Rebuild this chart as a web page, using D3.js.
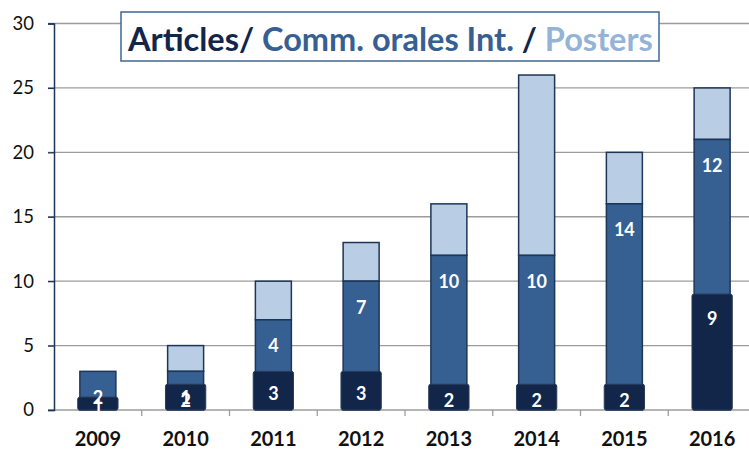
<!DOCTYPE html>
<html>
<head>
<meta charset="utf-8">
<script src="https://cdn.jsdelivr.net/npm/d3@7"></script>
<style>
  body { margin: 0; background: #fff; }
  svg { display: block; font-family: Lato, "Open Sans", sans-serif; }
</style>
</head>
<body>
<div class="chart"></div>
<script>
// data
var years = ["2009", "2010", "2011", "2012", "2013", "2014", "2015", "2016"];
var articles = [1, 2, 3, 3, 2, 2, 2, 9];
var comm_orales = [2, 1, 4, 7, 10, 10, 14, 12];
var posters = [0, 2, 3, 3, 4, 14, 4, 4];
var y_ticks = [0, 5, 10, 15, 20, 25, 30];

var width = 749, height = 450;
var margin_px = { top: 23.5, bottom: 40, left: 54, right: -7 };
var colors = { dark: "#12264a", mid: "#376092", light: "#b9cde5", edge: "#1d3557" };

var figure_data = years.map(function (y, i) {
  return { year: y, articles: articles[i], comm: comm_orales[i], posters: posters[i] };
});

var svg = d3.select(".chart").append("svg")
  .attr("width", width)
  .attr("height", height);

var x_scale = d3.scaleBand()
  .domain(years)
  .range([margin_px.left, width - margin_px.right])
  .paddingInner(0.59)
  .paddingOuter(0.295);

var y_scale = d3.scaleLinear()
  .domain([0, 30])
  .range([height - margin_px.bottom, margin_px.top]);

// grid lines
svg.append("g")
  .selectAll("line")
  .data(y_ticks)
  .enter()
  .append("line")
    .attr("x1", margin_px.left - 6)
    .attr("x2", width)
    .attr("y1", d => y_scale(d))
    .attr("y2", d => y_scale(d))
    .attr("stroke", "#9c9c9c")
    .attr("stroke-width", 1.3);

// y axis
var y_axis = svg.append("g")
  .attr("transform", "translate(" + margin_px.left + ",0)")
  .call(d3.axisLeft(y_scale).tickValues(y_ticks).tickSize(6).tickPadding(14));
y_axis.select(".domain").attr("stroke", colors.edge).attr("stroke-width", 1.5);
y_axis.selectAll(".tick line").attr("stroke", colors.edge).attr("stroke-width", 1.3);
y_axis.selectAll(".tick text")
  .attr("font-size", "18.5px")
  .attr("font-family", "Lato, sans-serif")
  .attr("fill", "#111");

// x axis ticks on the band edges
var step = x_scale.step();
var edges = years.map((d, i) => margin_px.left + i * step).concat([margin_px.left + years.length * step]);
svg.append("g")
  .selectAll("line")
  .data(edges.slice(1))
  .enter()
  .append("line")
    .attr("x1", d => d).attr("x2", d => d)
    .attr("y1", y_scale(0)).attr("y2", y_scale(0) + 6)
    .attr("stroke", "#9c9c9c")
    .attr("stroke-width", 1.3);

svg.append("g")
  .selectAll("text")
  .data(years)
  .enter()
  .append("text")
    .attr("x", d => x_scale(d) + x_scale.bandwidth() / 2)
    .attr("y", 446)
    .attr("text-anchor", "middle")
    .attr("font-size", "20px")
    .attr("font-weight", "bold")
    .attr("fill", "#111")
    .text(d => d);

var bw = x_scale.bandwidth();
var bars = svg.append("g");

// posters (top segment)
bars.selectAll(".posters")
  .data(figure_data.filter(d => d.posters > 0))
  .enter()
  .append("rect")
    .attr("class", "posters")
    .attr("x", d => x_scale(d.year))
    .attr("width", bw)
    .attr("y", d => y_scale(d.articles + d.comm + d.posters))
    .attr("height", d => y_scale(d.articles + d.comm) - y_scale(d.articles + d.comm + d.posters))
    .attr("fill", colors.light)
    .attr("stroke", colors.edge)
    .attr("stroke-width", 1.5);

// comm. orales
bars.selectAll(".comm")
  .data(figure_data)
  .enter()
  .append("rect")
    .attr("class", "comm")
    .attr("x", d => x_scale(d.year))
    .attr("width", bw)
    .attr("y", d => y_scale(d.articles + d.comm))
    .attr("height", d => y_scale(0) - y_scale(d.articles + d.comm))
    .attr("fill", colors.mid)
    .attr("stroke", colors.edge)
    .attr("stroke-width", 1.5);

// articles, drawn a bit wider over the others
var dark_w = bw * 1.12;
bars.selectAll(".articles")
  .data(figure_data)
  .enter()
  .append("rect")
    .attr("class", "articles")
    .attr("x", d => x_scale(d.year) + bw / 2 - dark_w / 2)
    .attr("width", dark_w)
    .attr("y", d => y_scale(d.articles))
    .attr("height", d => y_scale(0) - y_scale(d.articles))
    .attr("rx", 2)
    .attr("fill", colors.dark)
    .attr("stroke", "#2a3d5c")
    .attr("stroke-width", 1);

// labels
var labels = svg.append("g")
  .attr("font-size", "18px")
  .attr("font-weight", "bold")
  .attr("fill", "#fff")
  .attr("text-anchor", "middle");

labels.selectAll(".lab_art")
  .data(figure_data)
  .enter()
  .append("text")
    .attr("x", d => x_scale(d.year) + bw / 2)
    .attr("y", d => {
      var top = y_scale(d.articles), mid = (top + y_scale(0)) / 2;
      return Math.min(top + 24, mid + 3);
    })
    .attr("dy", "0.36em")
    .text(d => d.articles);

labels.selectAll(".lab_comm")
  .data(figure_data)
  .enter()
  .append("text")
    .attr("x", d => x_scale(d.year) + bw / 2)
    .attr("y", d => y_scale(d.articles + d.comm) + 26)
    .attr("dy", "0.36em")
    .text(d => d.comm);

// title box
svg.append("rect")
  .attr("x", 121).attr("y", 12)
  .attr("width", 538).attr("height", 49)
  .attr("fill", "#fff")
  .attr("stroke", "#3f6797")
  .attr("stroke-width", 1.5);

var title = svg.append("text")
  .attr("x", 128)
  .attr("y", 51)
  .attr("font-size", "32.5px")
  .attr("font-weight", "bold");
title.append("tspan").attr("fill", colors.dark).text("Articles/ ");
title.append("tspan").attr("fill", colors.mid).text("Comm. orales Int. ");
title.append("tspan").attr("fill", colors.dark).text("/ ");
title.append("tspan").attr("fill", "#95b3d7").text("Posters");
</script>
</body>
</html>
